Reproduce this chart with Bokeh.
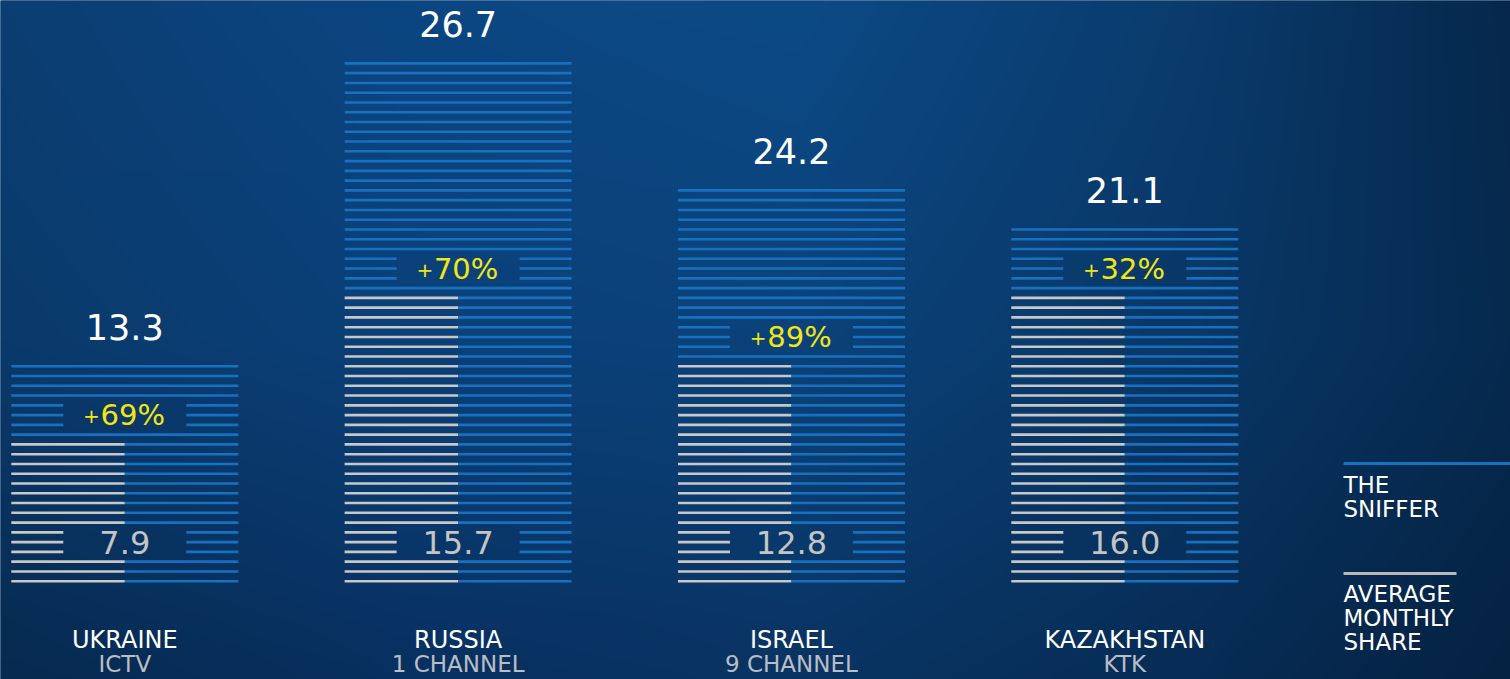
import numpy as np
from bokeh.plotting import figure
from bokeh.models import Range1d, ColumnDataSource
from bokeh.embed import file_html
from bokeh.resources import INLINE
from bokeh.core.properties import value

# ---------------- data ----------------
countries = ["UKRAINE", "RUSSIA", "ISRAEL", "KAZAKHSTAN"]
channels = ["ICTV", "1 CHANNEL", "9 CHANNEL", "KTK"]
sniffer_share = [13.3, 26.7, 24.2, 21.1]        # value on top of each bar
avg_monthly_share = [7.9, 15.7, 12.8, 16.0]     # value inside the bar
growth_pct = [69, 70, 89, 32]                   # yellow "+NN%" label
# bar heights as drawn, counted in stripe rows
sniffer_rows = [23, 54, 41, 37]
avg_rows = [15, 30, 23, 30]

legend_items = [["THE", "SNIFFER"], ["AVERAGE", "MONTHLY", "SHARE"]]

# ---------------- layout constants ----------------
W, H = 1510, 679
PX_PER_X = 333.333          # pixels between bar centres
X0_PX = 124.3               # pixel x of first bar centre
PX_PER_ROW = 9.77           # pixels between stripes
ROW0_PX = 580.7             # pixel y (from top) of the lowest stripe

def px_x(px):
    return (px - X0_PX) / PX_PER_X

def px_y(py):
    return (ROW0_PX - py) / PX_PER_ROW

FONT = value("DejaVu Sans")
BLUE = "#1870c0"
WHITE = "#c8c8c8"
YELLOW = "#f4e514"

p = figure(width=W, height=H, output_backend="svg", toolbar_location=None,
           x_range=Range1d(px_x(0), px_x(W)), y_range=Range1d(px_y(H), px_y(0)),
           x_axis_type=None, y_axis_type=None, min_border=0,
           min_border_left=0, min_border_right=0, min_border_top=0, min_border_bottom=0)
p.grid.visible = False
p.outline_line_color = None
p.background_fill_color = "#0a3a6b"
p.border_fill_color = "#0a3a6b"

# ---------------- background gradient (decoration) ----------------
gx = np.array([0, 400, 800, 1200, 1510], dtype=float)
gy = np.array([0, 340, 679], dtype=float)
grid_hex = [
    ["#0c3e72", "#0b4682", "#0c4a86", "#0a3b6c", "#06284c"],
    ["#0a3a6b", "#0b4078", "#0b4279", "#093766", "#062a4f"],
    ["#072a50", "#083060", "#093463", "#072c55", "#052242"],
]
grid_rgb = np.array([[[int(h[i:i + 2], 16) for i in (1, 3, 5)] for h in row] for row in grid_hex], dtype=float)
RES = 3
PAD = 12
nx, ny = (W + 2 * PAD) // RES, (H + 2 * PAD) // RES
xs = np.linspace(-PAD, W + PAD, nx)
ys = np.linspace(-PAD, H + PAD, ny)
img = np.zeros((ny, nx, 3))
for c in range(3):
    rows = np.array([np.interp(xs, gx, grid_rgb[r, :, c]) for r in range(3)])
    for j in range(nx):
        img[:, j, c] = np.interp(ys, gy, rows[:, j])
img = img[::-1]  # image rows go bottom -> top
rgba = np.empty((ny, nx), dtype=np.uint32)
view = rgba.view(dtype=np.uint8).reshape((ny, nx, 4))
view[:, :, 0] = img[:, :, 0].astype(np.uint8)
view[:, :, 1] = img[:, :, 1].astype(np.uint8)
view[:, :, 2] = img[:, :, 2].astype(np.uint8)
view[:, :, 3] = 255
p.image_rgba(image=[rgba], x=px_x(-PAD), y=px_y(H + PAD),
             dw=px_x(W + PAD) - px_x(-PAD), dh=px_y(-PAD) - px_y(H + PAD))

# ---------------- stripes ----------------
HW = 113.5 / PX_PER_X       # half bar width
GAP = 52 / PX_PER_X         # length of the short stripe pieces next to a label
LABEL_ROW = 4               # row of the in-bar value label

x0s, x1s, yv, cols = [], [], [], []
def seg(a, b, y, c):
    x0s.append(a); x1s.append(b); yv.append(y); cols.append(c)

for i in range(len(countries)):
    L, R, M = i - HW, i + HW, i
    pct_row = avg_rows[i] + 2
    gap_rows = {LABEL_ROW - 1, LABEL_ROW, LABEL_ROW + 1, pct_row - 1, pct_row, pct_row + 1}
    for r in range(sniffer_rows[i]):
        left_col = WHITE if r < avg_rows[i] else BLUE
        if r in gap_rows:
            seg(L, L + GAP, r, left_col)
            seg(R - GAP, R, r, BLUE)
        elif r < avg_rows[i]:
            seg(L, M, r, WHITE)
            seg(M, R, r, BLUE)
        else:
            seg(L, R, r, BLUE)

src = ColumnDataSource(dict(x0=x0s, x1=x1s, y=yv, c=cols))
p.segment(x0="x0", y0="y", x1="x1", y1="y", source=src, line_color="c",
          line_width=2.6, line_cap="butt")

idx = list(range(len(countries)))

# top values
p.text(x=idx, y=[n - 1 + 4.0 for n in sniffer_rows], text=[f"{v:.1f}" for v in sniffer_share],
       text_font=FONT, text_font_size="35px", text_color="#ffffff",
       text_align="center", text_baseline="middle")

# inner values
p.text(x=idx, y=[LABEL_ROW] * 4, text=[f"{v:.1f}" for v in avg_monthly_share],
       text_font=FONT, text_font_size="32px", text_color="#c4c4c4",
       text_align="center", text_baseline="middle")

# growth labels
p.text(x=idx, y=[a + 2 for a in avg_rows], text=[f"{g}%" for g in growth_pct],
       text_font=FONT, text_font_size="29px", text_color=YELLOW,
       text_align="center", text_baseline="middle", x_offset=8)
p.text(x=idx, y=[a + 2 for a in avg_rows], text=["+"] * 4,
       text_font=FONT, text_font_size="20px", text_color=YELLOW,
       text_align="right", text_baseline="middle", x_offset=-25, y_offset=1)

# category labels
p.text(x=idx, y=[px_y(639)] * 4, text=countries, text_font=FONT, text_font_size="24px",
       text_color="#ffffff", text_align="center", text_baseline="middle")
p.text(x=idx, y=[px_y(663)] * 4, text=channels, text_font=FONT, text_font_size="23px",
       text_color="#b9bdc4", text_align="center", text_baseline="middle")

# legend
LX = px_x(1343)
p.segment(x0=[LX], y0=[px_y(463)], x1=[px_x(W + 2)], y1=[px_y(463)], line_color=BLUE, line_width=3)
p.segment(x0=[LX], y0=[px_y(573)], x1=[px_x(1456)], y1=[px_y(573)], line_color="#b8b8b8", line_width=3)
leg_y = [[484, 508], [593, 617, 641]]
for words, ys_px in zip(legend_items, leg_y):
    p.text(x=[LX] * len(words), y=[px_y(v) for v in ys_px], text=words, text_font=FONT,
           text_font_size="23px", text_color="#ffffff", text_align="left", text_baseline="middle")

open("out.html", "w").write(file_html(p, INLINE))
